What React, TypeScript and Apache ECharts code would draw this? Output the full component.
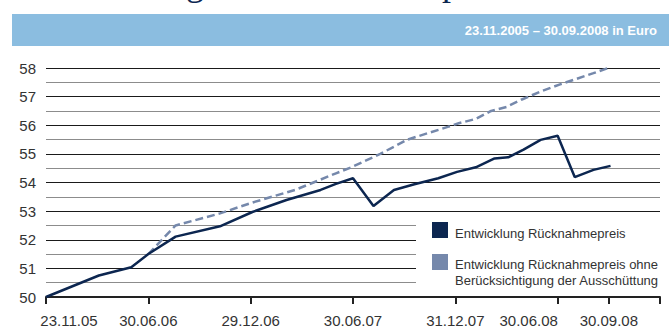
import React, { useEffect, useRef } from "react";
import * as echarts from "echarts";

// Months since 23.11.2005 (x) and fund prices in Euro (y)
const months: string[] = Array.from({ length: 37 }, (_, i) => String(i));
const tickMonths = [0, 6, 12, 18, 24, 30, 33, 36];
const tickLabels: Record<number, string> = {
  0: "23.11.05",
  6: "30.06.06",
  12: "29.12.06",
  18: "30.06.07",
  24: "31.12.07",
  30: "30.06.08",
  33: "30.09.08",
};

const priceX = [0, 3.1, 5.0, 6.0, 7.6, 10.2, 12.1, 14.1, 16.1, 17.0, 18.0, 19.2, 20.4, 21.6, 23.0, 24.1, 25.2, 26.3, 27.1, 28.0, 29.0, 30.0, 31.0, 32.1, 33.1];
const priceY = [50.0, 50.75, 51.04, 51.5, 52.11, 52.47, 52.97, 53.39, 53.74, 53.95, 54.15, 53.18, 53.74, 53.94, 54.15, 54.37, 54.53, 54.84, 54.88, 55.15, 55.49, 55.63, 54.19, 54.44, 54.58];

const grossX = [6.0, 7.6, 10.2, 12.1, 14.6, 17.0, 17.9, 19.6, 21.2, 23.6, 24.2, 25.2, 26.1, 27.0, 27.9, 29.1, 30.1, 31.0, 32.1, 33.1];
const grossY = [51.5, 52.5, 52.92, 53.3, 53.74, 54.32, 54.53, 55.0, 55.5, 55.95, 56.07, 56.22, 56.5, 56.64, 56.9, 57.2, 57.42, 57.6, 57.82, 58.03];

const seriesNames = [
  "Entwicklung Rücknahmepreis",
  "Entwicklung Rücknahmepreis ohne\nBerücksichtigung der Ausschüttung",
];
const bannerText = "23.11.2005 – 30.09.2008 in Euro";
const titleText = "Entwicklung des Rücknahmepreises";

const NAVY = "#0c2650";
const LIGHT = "#7588ab";
const FONT = "'Liberation Sans', Arial, sans-serif";

export default function App() {
  const ref = useRef<HTMLDivElement>(null);
  useEffect(() => {
    document.body.style.margin = "0";
    if (!ref.current) return;
    const chart = echarts.init(ref.current, undefined, { renderer: "svg" });
    chart.setOption({
      animation: false,
      backgroundColor: "#ffffff",
      grid: { left: 46, right: 9, top: 68, bottom: 35 },
      xAxis: [
        {
          type: "category",
          data: months,
          boundaryGap: false,
          axisLine: { show: true, lineStyle: { color: "#222222", width: 2 } },
          axisTick: {
            show: true,
            interval: (i: number) => tickMonths.includes(i),
            length: 7,
            lineStyle: { color: "#222222", width: 2 },
          },
          axisLabel: {
            interval: (i: number) => tickLabels[i] !== undefined,
            margin: 16,
            color: "#333333",
            fontSize: 15,
            fontFamily: FONT,
            formatter: (v: string) => {
              const i = Number(v);
              const t = tickLabels[i] || "";
              if (i === 0) return "{r|" + t + "}";
              if (i === 30) return "{l|" + t + "}";
              return t;
            },
            rich: {
              r: { fontSize: 15, fontFamily: FONT, color: "#333333", padding: [0, 0, 0, 46] },
              l: { fontSize: 15, fontFamily: FONT, color: "#333333", padding: [0, 58, 0, 0] },
            },
          },
          splitLine: { show: false },
        },
        { type: "value", min: 0, max: 36, show: false },
      ],
      yAxis: {
        type: "value",
        min: 50,
        max: 58,
        interval: 0.5,
        axisLine: { show: false },
        axisTick: { show: false },
        axisLabel: {
          color: "#333333",
          fontSize: 15,
          fontFamily: FONT,
          margin: 10,
          formatter: (v: number) => (Number.isInteger(v) ? String(v) : ""),
        },
        splitLine: { show: true, lineStyle: { color: ["#1a1a1a", "#8c8c8c"], width: 1 } },
      },
      series: [
        {
          name: seriesNames[1],
          type: "line",
          xAxisIndex: 1,
          data: grossX.map((x, i) => [x, grossY[i]]),
          showSymbol: false,
          lineStyle: { color: LIGHT, width: 2.5, type: [8, 4] },
          z: 3,
        },
        {
          name: seriesNames[0],
          type: "line",
          xAxisIndex: 1,
          data: priceX.map((x, i) => [x, priceY[i]]),
          showSymbol: false,
          lineStyle: { color: NAVY, width: 2.5 },
          z: 4,
        },
      ],
      graphic: [
        {
          type: "text",
          left: 20,
          top: -35,
          z: 10,
          style: { text: titleText, fill: NAVY, fontSize: 36, fontFamily: "'Liberation Serif', serif" },
        },
        { type: "rect", shape: { x: 12, y: 14, width: 660, height: 32 }, style: { fill: "#8bbde0" }, z: 11 },
        {
          type: "text",
          x: 657,
          y: 30,
          z: 12,
          style: {
            text: bannerText,
            fill: "#ffffff",
            fontSize: 13,
            fontWeight: "bold",
            fontFamily: FONT,
            align: "right",
            verticalAlign: "middle",
          },
        },
        { type: "rect", shape: { x: 416, y: 216, width: 246, height: 79 }, style: { fill: "#ffffff" }, z: 10 },
        { type: "rect", shape: { x: 432, y: 222, width: 16, height: 16 }, style: { fill: NAVY }, z: 11 },
        { type: "rect", shape: { x: 432, y: 254, width: 16, height: 16 }, style: { fill: LIGHT }, z: 11 },
        {
          type: "text",
          x: 455,
          y: 233,
          z: 11,
          style: { text: seriesNames[0], fill: "#333333", fontSize: 13, fontFamily: FONT, verticalAlign: "middle" },
        },
        {
          type: "text",
          x: 455,
          y: 272,
          z: 11,
          style: {
            text: seriesNames[1],
            fill: "#333333",
            fontSize: 13,
            lineHeight: 16,
            fontFamily: FONT,
            verticalAlign: "middle",
          },
        },
      ],
    });
    return () => chart.dispose();
  }, []);
  return <div ref={ref} style={{ position: "fixed", left: 0, top: 0, width: 669, height: 332 }} />;
}
